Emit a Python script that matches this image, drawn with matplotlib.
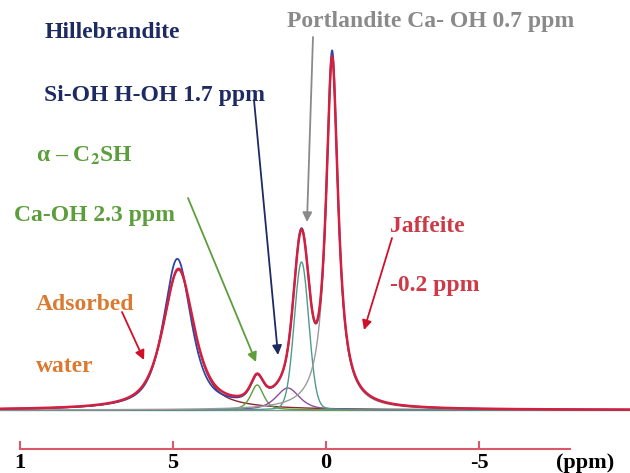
import matplotlib.pyplot as plt
import numpy as np

plt.rcParams["mathtext.fontset"] = "stix"

# peak parameters (ppm, height, fwhm, lorentz fraction)
nombres = ["water", "C2SH", "hillebrandite", "portlandite", "jaffeite"]
centros = [4.82, 2.25, 1.25, 0.80, -0.20]
alturas = [140, 25, 22, 148, 350]
anchos = [1.20, 0.50, 0.90, 0.56, 0.48]
eta = [0.7, 0.6, 0.6, 0.1, 1.0]
colores = ["#8b2331", "#5c9e3c", "#8e4c9e", "#4f9a8c", "#9a9a9a"]

# experimental spectrum: slightly different from fit on water + jaffeite
centros_exp = [4.86, 2.25, 1.25, 0.80, -0.20]
alturas_exp = [150, 25, 22, 150, 356]
anchos_exp = [1.08, 0.50, 0.90, 0.56, 0.47]

tick_pos = [10, 5, 0, -5]
tick_lab = ["1", "5", "0", "-5"]

W, H = 630, 473
PX0, PXPPM = 326, 30.6     # pixel of 0 ppm, pixels per ppm
BASE = 410                 # baseline pixel row


def pico(x, c, h, w, e):
    g = w / 2
    lor = 1 / (1 + ((x - c) / g) ** 2)
    gau = np.exp(-np.log(2) * ((x - c) / g) ** 2)
    return h * (e * lor + (1 - e) * gau)


x = np.linspace(10.7, -10, 3000)

comps = [pico(x, c, h, w, e) for c, h, w, e in zip(centros, alturas, anchos, eta)]
fit = np.sum(comps, axis=0)
exp = np.sum([pico(x, c, h, w, e) for c, h, w, e in
              zip(centros_exp, alturas_exp, anchos_exp, eta)], axis=0)

fig = plt.figure(figsize=(W / 100, H / 100), dpi=100)
ax = fig.add_axes([0, 0, 1, 1])
ax.set_xlim(PX0 / PXPPM, (PX0 - W) / PXPPM)
ax.set_ylim(BASE - H, BASE)

ax.axhline(0, color="#7a9a8a", lw=1.0)
for y, col in zip(comps, colores):
    ax.plot(x, y, color=col, lw=1.0)
ax.plot(x, exp, color="#2f46a8", lw=1.3)
ax.plot(x, fit, color="#d3203f", lw=1.8)

# bottom axis in red
for s in ["top", "right", "left"]:
    ax.spines[s].set_visible(False)
ax.spines["bottom"].set_position(("data", BASE - 449))
ax.spines["bottom"].set_color("#d9596a")
ax.spines["bottom"].set_linewidth(1.5)
ax.spines["bottom"].set_bounds(10, (PX0 - 570) / PXPPM)
ax.set_yticks([])
ax.set_xticks(tick_pos)
ax.set_xticklabels(tick_lab, fontfamily="Liberation Serif", fontweight="bold", fontsize=16)
ax.tick_params(axis="x", direction="in", color="#d9596a", width=1.5, length=6, pad=3)


def fx(px):
    return px / W


def fy(py):
    return 1 - py / H


serif = dict(fontfamily="Liberation Serif", fontweight="bold", fontsize=17,
             transform=fig.transFigure, va="center", ha="left")
navy = "#1e2a62"
verde = "#5c9e3c"
gris = "#8a8a8a"
rojo = "#cc3a48"
naranja = "#da7a30"

fig.text(fx(556), fy(463), "(ppm)", **dict(serif, fontsize=16))
fig.text(fx(45), fy(33), "Hillebrandite", color=navy, **serif)
fig.text(fx(44), fy(95), "Si-OH H-OH 1.7 ppm", color=navy, **serif)
fig.text(fx(36), fy(156), "α – C$_\\mathbf{2}$SH", color=verde, **serif)
fig.text(fx(14), fy(215), "Ca-OH 2.3 ppm", color=verde, **serif)
fig.text(fx(287), fy(22), "Portlandite Ca- OH 0.7 ppm", color=gris, **serif)
fig.text(fx(390), fy(226), "Jaffeite", color=rojo, **serif)
fig.text(fx(390), fy(285), "-0.2 ppm", color=rojo, **serif)
fig.text(fx(36), fy(304), "Adsorbed", color=naranja, **serif)
fig.text(fx(36), fy(366), "water", color=naranja, **serif)

flechas = [((313, 37), (307, 222), gris),
           ((254, 100), (278, 355), navy),
           ((188, 198), (256, 362), verde),
           ((392, 238), (364, 330), "#d0102a"),
           ((122, 312), (144, 360), "#d0102a")]
for (x0, y0), (x1, y1), col in flechas:
    ax.annotate("", xy=(fx(x1), fy(y1)), xytext=(fx(x0), fy(y0)),
                xycoords="figure fraction", textcoords="figure fraction",
                arrowprops=dict(arrowstyle="-|>", color=col, lw=1.3,
                                mutation_scale=14, shrinkA=0, shrinkB=0))

plt.savefig("out.png", dpi=100)
